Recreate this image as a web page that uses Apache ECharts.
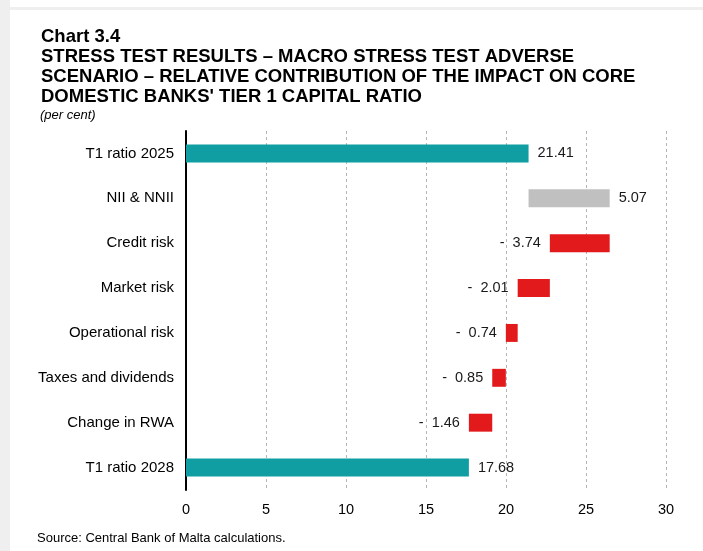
<!DOCTYPE html>
<html>
<head>
<meta charset="utf-8">
<script src="https://cdn.jsdelivr.net/npm/echarts@6/dist/echarts.min.js"></script>
<style>
  html, body { margin: 0; padding: 0; background: #ffffff; }
  #frame { position: absolute; left: 0; top: 0; width: 703px; height: 551px; overflow: hidden; }
  #edgeLeft { position: absolute; left: 0; top: 0; width: 10px; height: 551px; background: #efefef; }
  #edgeTop { position: absolute; left: 0; top: 7px; width: 703px; height: 3px; background: #efefef; }
  #chart { position: absolute; left: 0; top: 0; width: 703px; height: 551px; }
</style>
</head>
<body>
<div id="frame">
  <div id="edgeLeft"></div>
  <div id="edgeTop"></div>
  <div id="chart"></div>
</div>
<script>
// Tier 1 capital ratio waterfall, adverse scenario
const categories = ['T1 ratio 2025', 'NII & NNII', 'Credit risk', 'Market risk',
  'Operational risk', 'Taxes and dividends', 'Change in RWA', 'T1 ratio 2028'];
const startRatio = 21.41;
const contributions = [5.07, -3.74, -2.01, -0.74, -0.85, -1.46];
const endRatio = 17.68;
const xTicks = [0, 5, 10, 15, 20, 25, 30];

const TEAL = '#109ea3';
const GREY = '#c0c0c0';
const RED = '#e31a1c';
const FONT = '"Liberation Sans", Arial, sans-serif';

// Build invisible offsets and visible segments from the running total
const baseData = [];
const barData = [];
baseData.push(0);
barData.push({ value: startRatio, itemStyle: { color: TEAL }, label: { position: 'right', formatter: startRatio.toFixed(2) } });
let running = startRatio;
contributions.forEach(function (c) {
  const next = running + c;
  const low = Math.min(running, next);
  baseData.push(low);
  if (c >= 0) {
    barData.push({ value: Math.abs(c), itemStyle: { color: GREY }, label: { position: 'right', formatter: c.toFixed(2) } });
  } else {
    barData.push({ value: Math.abs(c), itemStyle: { color: RED }, label: { position: 'left', formatter: '-  ' + Math.abs(c).toFixed(2) } });
  }
  running = next;
});
baseData.push(0);
barData.push({ value: endRatio, itemStyle: { color: TEAL }, label: { position: 'right', formatter: endRatio.toFixed(2) } });

const chart = echarts.init(document.getElementById('chart'), null, { renderer: 'canvas' });
chart.setOption({
  backgroundColor: 'transparent',
  animation: false,
  title: [
    {
      text: 'Chart 3.4\nSTRESS TEST RESULTS – MACRO STRESS TEST ADVERSE\nSCENARIO – RELATIVE CONTRIBUTION OF THE IMPACT ON CORE\nDOMESTIC BANKS\' TIER 1 CAPITAL RATIO',
      left: 41, top: 27, padding: 0,
      textStyle: { fontFamily: FONT, fontSize: 18.5, fontWeight: 'bold', color: '#000', lineHeight: 20 }
    },
    {
      text: '(per cent)',
      left: 40, top: 109, padding: 0,
      textStyle: { fontFamily: FONT, fontSize: 13, fontStyle: 'italic', fontWeight: 'normal', color: '#000' }
    },
    {
      text: 'Source: Central Bank of Malta calculations.',
      left: 37, top: 532, padding: 0,
      textStyle: { fontFamily: FONT, fontSize: 13, fontWeight: 'normal', color: '#000' }
    }
  ],
  grid: { left: 186, right: 37, top: 131, bottom: 61, containLabel: false },
  xAxis: {
    type: 'value', min: 0, max: 30, interval: 5,
    axisLine: { show: false },
    axisTick: { show: false },
    axisLabel: { fontFamily: FONT, fontSize: 14.5, color: '#000', margin: 12,
      customValues: xTicks },
    splitLine: { show: true, lineStyle: { color: '#b5b5b5', type: [3, 3], width: 1 } }
  },
  yAxis: {
    type: 'category', data: categories, inverse: true,
    axisLine: { show: true, lineStyle: { color: '#000', width: 2 } },
    axisTick: { show: false },
    axisLabel: { fontFamily: FONT, fontSize: 15, color: '#000', margin: 12 }
  },
  series: [
    {
      type: 'bar', stack: 'wf', data: baseData, barWidth: '40%',
      itemStyle: { color: 'transparent' }, silent: true
    },
    {
      type: 'bar', stack: 'wf', data: barData, barWidth: '40%',
      label: { show: true, fontFamily: FONT, fontSize: 14.5, color: '#1a1a1a', distance: 9 }
    }
  ]
});
</script>
</body>
</html>
